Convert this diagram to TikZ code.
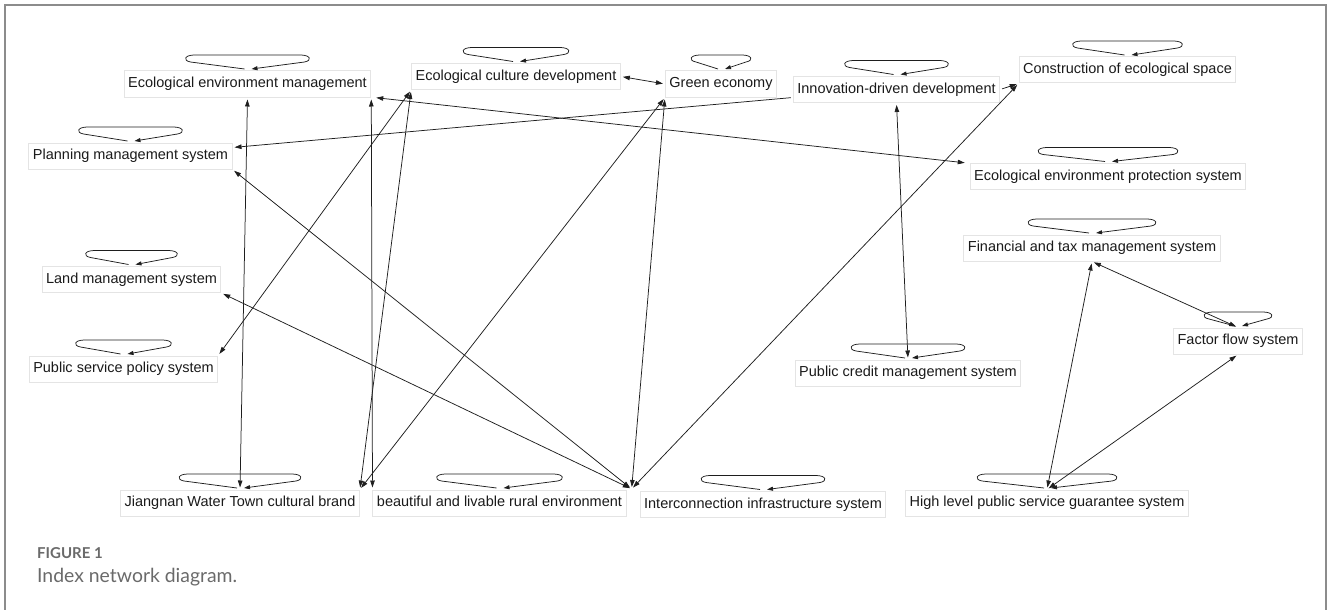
\documentclass[tikz,border=0pt]{standalone}
\usepackage{fontspec}
\setmainfont{Liberation Sans}
\newfontfamily\capfont{Lato}
\usetikzlibrary{arrows.meta}
\definecolor{framecol}{HTML}{8C8C8C}
\definecolor{boxcol}{HTML}{E4E4E4}
\definecolor{edgecol}{HTML}{1E1E1E}
\definecolor{txtcol}{HTML}{1A1A1A}
\definecolor{capcol}{HTML}{6A6A6A}
% self loop above a node: #1 node name, #2 half width of the loop
\newcommand{\selfloop}[2]{%
  \begin{scope}[shift={(#1.north)}]
    \draw[loopst] (-3,-1.5) -- (-#2+5,-8.5)
      .. controls (-#2-3,-10) and (-#2-1,-15.5) .. (-#2+9,-15.5)
      -- (#2-9,-15.5)
      .. controls (#2+1,-15.5) and (#2+3,-10) .. (#2-5,-8.5)
      -- (4,-1.5);
  \end{scope}}
\begin{document}
\begin{tikzpicture}[x=1pt,y=-1pt,
  lbl/.style={draw=boxcol, line width=1pt, font=\fontsize{14.5pt}{17pt}\selectfont,
    text=txtcol, inner xsep=4pt, inner ysep=0pt, text height=10.5pt, text depth=3pt,
    minimum height=26pt},
  ed/.style={draw=edgecol, line width=0.75pt, shorten <=2pt, shorten >=2pt},
  bi/.style={ed, {Triangle[length=7pt,width=4.5pt]}-{Triangle[length=7pt,width=4.5pt]}},
  one/.style={ed, -{Triangle[length=7pt,width=4.5pt]}},
  loopst/.style={draw=edgecol, line width=0.75pt, -{Triangle[length=6pt,width=4pt]}},
  framest/.style={draw=framecol, line width=1.5pt},
  captitle/.style={anchor=base west, inner sep=0pt, text=capcol, font=\capfont\bfseries\fontsize{15pt}{18pt}\selectfont},
  captext/.style={anchor=base west, inner sep=0pt, text=capcol, font=\capfont\fontsize{19.4pt}{22pt}\selectfont}
]
\useasboundingbox (0,0) rectangle (1328,610);
\draw[framest] (5,610) -- (5,5) -- (1326,5) -- (1326,610);

% nodes
\node[lbl] (eem) at (247.5,84) {Ecological environment management};
\node[lbl] (pl)  at (130.5,156) {Planning management system};
\node[lbl] (ec)  at (516,76.5) {Ecological culture development};
\node[lbl] (ge)  at (721,84) {Green economy};
\node[lbl] (in)  at (896.5,89.5) {Innovation-driven development};
\node[lbl] (cs)  at (1127.5,70) {Construction of ecological space};
\node[lbl] (pr)  at (1108,176.5) {Ecological environment protection system};
\node[lbl] (la)  at (131.5,279.5) {Land management system};
\node[lbl] (psp) at (123.5,369) {Public service policy system};
\node[lbl] (fi)  at (1092,248) {Financial and tax management system};
\node[lbl] (ff)  at (1238,341) {Factor flow system};
\node[lbl] (pc)  at (908,373) {Public credit management system};
\node[lbl] (jw)  at (240,503) {Jiangnan Water Town cultural brand};
\node[lbl] (bea) at (499.5,503) {beautiful and livable rural environment};
\node[lbl] (ic)  at (763,504.5) {Interconnection infrastructure system};
\node[lbl] (hl)  at (1047,503) {High level public service guarantee system};

% self loops
\selfloop{eem}{62}
\selfloop{pl}{52}
\selfloop{ec}{53}
\selfloop{ge}{30}
\selfloop{in}{52}
\selfloop{cs}{55}
\selfloop{pr}{70}
\selfloop{la}{46}
\selfloop{psp}{48}
\selfloop{fi}{64}
\selfloop{ff}{34}
\selfloop{pc}{57}
\selfloop{jw}{61}
\selfloop{bea}{63}
\selfloop{ic}{62}
\selfloop{hl}{70}

% connectors
\draw[bi] (ec.east) -- (ge.west);
\draw[one] (in.east) -- (cs.south west);
\draw[bi] ([shift={(-8pt,2pt)}]ic.north west) -- (cs.south west);
\draw[bi] (eem.south east) -- (bea.north west);
\draw[bi] (eem.south) -- (jw.north);
\draw[bi] ([xshift=3pt]eem.south east) -- ([xshift=-3pt]pr.north west);
\draw[bi] (ec.south west) -- (jw.north east);
\draw[bi] (ec.south west) -- (psp.north east);
\draw[bi] (ge.south west) -- (jw.north east);
\draw[bi] (ge.south west) -- ([shift={(-8pt,2pt)}]ic.north west);
\draw[bi] (pl.south east) -- ([shift={(-8pt,2pt)}]ic.north west);
\draw[bi] (la.south east) -- ([shift={(-8pt,2pt)}]ic.north west);
\draw[one] ([yshift=-8pt]in.west) -- ([yshift=-5pt]pl.north east);
\draw[bi] (in.south) -- (pc.north);
\draw[bi] (fi.south) -- (ff.north);
\draw[bi] (hl.north) -- (fi.south);
\draw[bi] (hl.north) -- (ff.south);

% caption
\node[captitle] (figlabel) at (37,558) {FIGURE 1};
\node[captext] (figcaption) at (37,582) {Index network diagram.};
\end{tikzpicture}
\end{document}
